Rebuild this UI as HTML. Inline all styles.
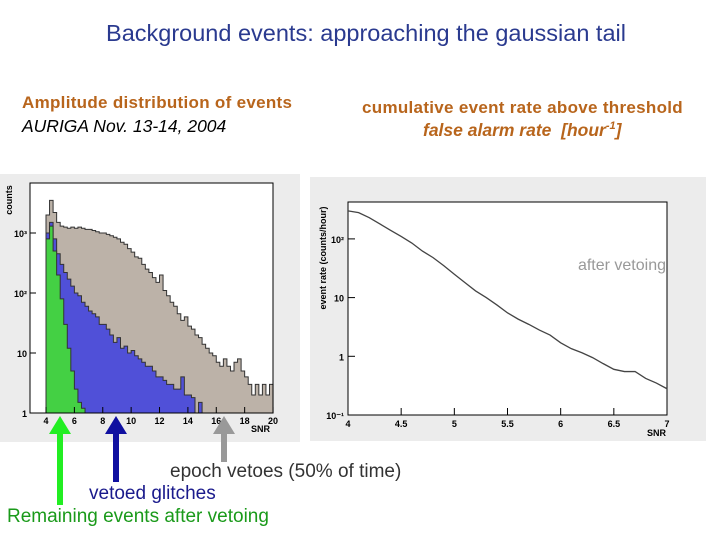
<!DOCTYPE html>
<html><head><meta charset="utf-8"><style>
body{margin:0;width:720px;height:540px;background:#fff;overflow:hidden;position:relative;font-family:"Liberation Sans",sans-serif}
.t{position:absolute;white-space:nowrap}
</style></head><body>
<div class="t" style="left:0;width:732px;text-align:center;top:20px;font-size:23.5px;color:#2a3a8f">Background events: approaching the gaussian tail</div>
<div class="t" style="left:22px;top:93px;font-size:17px;font-weight:bold;letter-spacing:0.3px;color:#b8651c">Amplitude distribution of events</div>
<div class="t" style="left:22px;top:116px;font-size:17.5px;font-style:italic;color:#000">AURIGA Nov. 13-14, 2004</div>
<div class="t" style="left:362px;top:98px;font-size:17px;font-weight:bold;letter-spacing:0.3px;color:#b8651c">cumulative event rate above threshold</div>
<div class="t" style="left:423px;top:120px;font-size:17.5px;font-style:italic;font-weight:bold;color:#b8651c">false alarm rate&nbsp; [hour<sup style="font-size:11px">-1</sup>]</div>
<svg id="s" width="720" height="540" style="position:absolute;left:0;top:0"></svg>
<div class="t" style="left:170px;top:461px;font-size:19px;color:#333">epoch vetoes (50% of time)</div>
<div class="t" style="left:89px;top:483px;font-size:19px;color:#1a1a8c">vetoed glitches</div>
<div class="t" style="left:7px;top:506px;font-size:19px;color:#1a9a1a">Remaining events after vetoing</div>
<script>
const binStart=4, binW=0.25;
const grayCounts=[2000,3500,2200,1500,1300,1250,1200,1250,1200,1250,1200,1150,1150,1100,1050,1000,1000,950,900,850,800,700,650,550,480,400,380,300,250,220,180,150,200,110,90,70,60,45,35,40,28,25,20,18,14,12,10,9,7,6,8,6,5,7,8,5,4,3,2,3,2,3,2,3];
const blueCounts=[1000,1500,800,450,300,220,170,130,100,90,70,60,50,45,40,30,30,25,20,15,18,12,13,10,11,9,8,7,6,6,5,4,4,3.5,3,3,2.5,2.5,4,2,2,1.8,0,1.5,0,1,1,1,1,1,0,0,0,0,0,1,0,0,0,0,0,0,0,0];
const greenCounts=[800,1300,500,200,80,30,12,5,2.5,1.5,1.2,0];
const leftXTicks=[4,6,8,10,12,14,16,18,20];
const rateX=[4,4.1,4.2,4.3,4.4,4.5,4.6,4.7,4.8,4.9,5,5.1,5.2,5.3,5.4,5.5,5.6,5.7,5.8,5.9,6,6.1,6.2,6.3,6.4,6.5,6.6,6.7,6.8,6.9,7];
const rateY=[300,280,230,180,140,110,85,62,48,35,25,18,13,10,7.5,5.5,4.3,3.5,2.8,2.3,1.7,1.35,1.15,0.95,0.75,0.6,0.55,0.55,0.42,0.35,0.28];
const rightXTicks=[4,4.5,5,5.5,6,6.5,7];
const NS='http://www.w3.org/2000/svg', s=document.getElementById('s');
function mk(t,a,p){const e=document.createElementNS(NS,t);for(const k in a)e.setAttribute(k,a[k]);(p||s).appendChild(e);return e;}
const L={x0:30,x1:273,y0:183,y1:413};
const lx=v=>46+(v-4)*14.19, ly=v=>413-Math.log10(Math.max(v,1))*60;
const lp=mk('rect',{x:0,y:174,width:300,height:268,fill:'#ececec'});

const lf=mk('rect',{x:L.x0,y:L.y0,width:L.x1-L.x0,height:L.y1-L.y0,fill:'#fff'});

function hist(arr,fill,name){let d='M'+lx(binStart)+','+ly(1);arr.forEach((c,i)=>{const y=c>=1?ly(c):ly(1);d+=' L'+lx(binStart+i*binW)+','+y+' L'+lx(binStart+(i+1)*binW)+','+y;});d+=' L'+lx(binStart+arr.length*binW)+','+ly(1)+'Z';
const p=mk('path',{d:d,fill:fill,stroke:'#333','stroke-width':1});}
hist(grayCounts,'#bcb2a8','hist-all-events');
hist(blueCounts,'#5050d8','hist-vetoed-glitches');
hist(greenCounts,'#44d044','hist-remaining-events');
mk('rect',{x:L.x0,y:L.y0,width:L.x1-L.x0,height:L.y1-L.y0,fill:'none',stroke:'#000','stroke-width':1});
leftXTicks.forEach(v=>{mk('line',{x1:lx(v),x2:lx(v),y1:L.y1,y2:L.y1-6,stroke:'#000'});const t=mk('text',{x:lx(v),y:L.y1+11,'font-size':9,'font-weight':'bold','text-anchor':'middle'});t.textContent=v;});
[[1,'1'],[10,'10'],[100,'10²'],[1000,'10³']].forEach(([v,l])=>{mk('line',{x1:L.x0,x2:L.x0+6,y1:ly(v),y2:ly(v),stroke:'#000'});const t=mk('text',{x:L.x0-3,y:ly(v)+4,'font-size':9,'font-weight':'bold','text-anchor':'end'});t.textContent=l;});
let t=mk('text',{x:270,y:432,'font-size':9,'font-weight':'bold','text-anchor':'end'});t.textContent='SNR';
t=mk('text',{x:12,y:200,'font-size':9,'font-weight':'bold','text-anchor':'middle',transform:'rotate(-90 12 200)'});t.textContent='counts';
const R={x0:348,x1:667,y0:202,y1:415};
const rx=v=>R.x0+(v-4)*(R.x1-R.x0)/3, ry=v=>R.y1-(Math.log10(v)+1)*58.7;
const rp=mk('rect',{x:310,y:177,width:396,height:264,fill:'#ececec'});

const rf=mk('rect',{x:R.x0,y:R.y0,width:R.x1-R.x0,height:R.y1-R.y0,fill:'#fff',stroke:'#000'});

let d='';rateX.forEach((x,i)=>{d+=(i?' L':'M')+rx(x)+','+ry(rateY[i]);});
const rl=mk('path',{d:d,fill:'none',stroke:'#444','stroke-width':1.3});
rightXTicks.forEach(v=>{mk('line',{x1:rx(v),x2:rx(v),y1:R.y1,y2:R.y1-7,stroke:'#000'});const t=mk('text',{x:rx(v),y:R.y1+12,'font-size':9,'font-weight':'bold','text-anchor':'middle'});t.textContent=v;});
[[0.1,'10⁻¹'],[1,'1'],[10,'10'],[100,'10²']].forEach(([v,l])=>{mk('line',{x1:R.x0,x2:R.x0+7,y1:ry(v),y2:ry(v),stroke:'#000'});const t=mk('text',{x:R.x0-4,y:ry(v)+4,'font-size':9,'font-weight':'bold','text-anchor':'end'});t.textContent=l;});
t=mk('text',{x:666,y:436,'font-size':9,'font-weight':'bold','text-anchor':'end'});t.textContent='SNR';
t=mk('text',{x:326,y:258,'font-size':9,'font-weight':'bold','text-anchor':'middle',transform:'rotate(-90 326 258)'});t.textContent='event rate (counts/hour)';
t=mk('text',{x:666,y:270,'font-size':16,fill:'#999','text-anchor':'end'});t.textContent='after vetoing';
function arrow(x,yTip,yEnd,col,name){const g=mk('g',{});
mk('rect',{x:x-3,y:yTip+16,width:6,height:yEnd-yTip-16,fill:col},g);mk('polygon',{points:(x-11)+','+(yTip+18)+' '+x+','+yTip+' '+(x+11)+','+(yTip+18),fill:col},g);}
arrow(60,416,505,'#22ee22','green-arrow');
arrow(116,416,482,'#1010a0','blue-arrow');
arrow(224,416,462,'#999','gray-arrow');
</script>
</body></html>
